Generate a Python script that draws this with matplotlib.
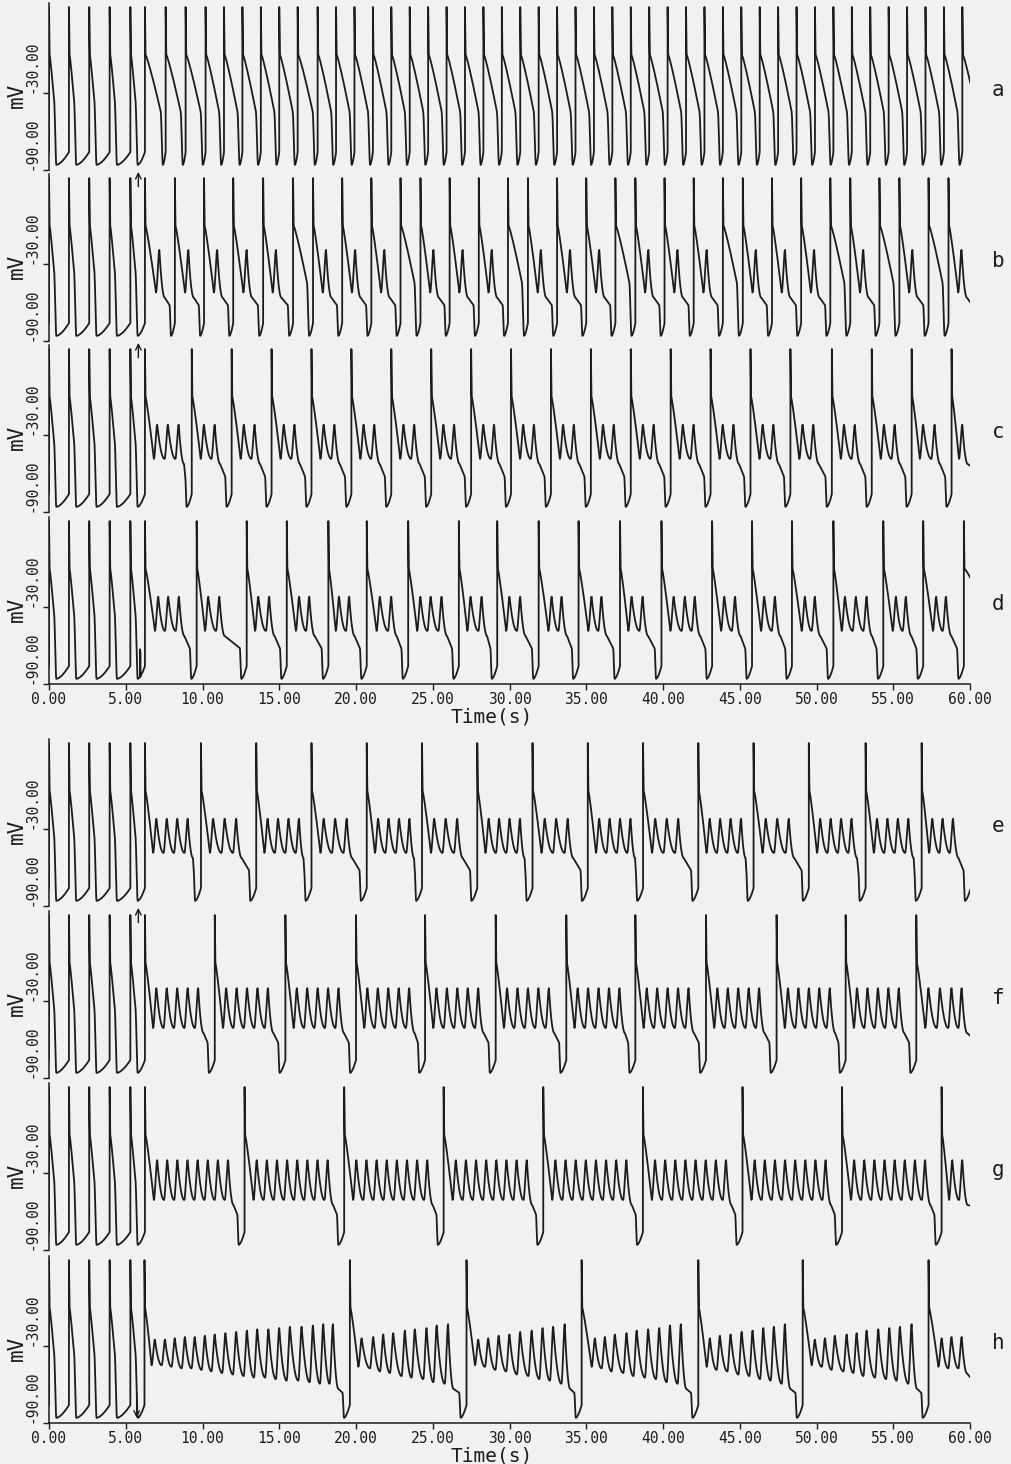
import numpy as np
import matplotlib.pyplot as plt

plt.rcParams['font.family'] = 'DejaVu Sans Mono'

W, H = 1011, 1464
INK = '#1c1c1c'
PAPER = '#f1f1ef'

# action potentials before the stimulus (same in every trace)
pre_aps = [0.0, 1.3, 2.62, 3.95, 5.3]

# upstroke times (s) after the stimulus; last value lies past the end
a_aps = [6.25, 7.6, 8.9, 10.2, 11.4, 12.6, 13.8, 15.0, 16.2, 17.5, 18.7, 19.9,
         21.1, 22.3, 23.5, 24.7, 25.9, 27.1, 28.3, 29.5, 30.7, 31.9, 33.1, 34.3,
         35.5, 36.7, 37.9, 39.1, 40.3, 41.5, 42.7, 43.9, 45.1, 46.3, 47.5, 48.7,
         49.9, 51.1, 52.3, 53.5, 54.7, 55.9, 57.1, 58.3, 59.5, 60.75]
a_bumps = []

b_aps = [6.25, 8.2, 10.1, 12.0, 13.95, 15.9, 17.2, 19.1, 21.0, 22.9, 24.2, 26.1,
         28.0, 29.9, 31.2, 33.1, 35.0, 36.9, 38.2, 40.1, 42.0, 43.9, 45.2, 47.1,
         49.0, 50.9, 52.2, 54.1, 55.4, 57.3, 58.6, 60.5]
b_bumps = [7.19, 9.08, 10.96, 12.88, 14.79, 18.05, 19.95, 21.85, 25.05, 26.95,
           28.85, 32.05, 33.95, 35.85, 39.05, 40.95, 42.85, 46.05, 47.95, 49.85,
           53.05, 56.25, 59.45]

c_aps = [6.25, 9.3, 11.9, 14.5, 17.1, 19.7, 22.3, 24.9, 27.5, 30.1, 32.7, 35.3,
         37.9, 40.5, 43.1, 45.7, 48.3, 51.0, 53.6, 56.2, 58.8, 61.4]
c_bumps = [7.05, 7.75, 8.45, 10.1, 10.8, 12.7, 13.4, 15.3, 16.0, 17.9, 18.6,
           20.5, 21.2, 23.1, 23.8, 25.7, 26.4, 28.3, 29.0, 30.9, 31.6, 33.5,
           34.2, 36.1, 36.8, 38.7, 39.4, 41.3, 42.0, 43.9, 44.6, 46.5, 47.2,
           49.1, 49.8, 51.8, 52.5, 54.4, 55.1, 56.95, 57.7, 59.5]

d_aps = [6.25, 9.62, 12.88, 15.49, 18.2, 20.7, 23.4, 26.7, 29.2, 31.9, 34.5,
         37.2, 39.9, 43.2, 45.8, 48.4, 51.1, 54.35, 56.95, 59.6, 62.0]
d_bumps = [7.12, 7.77, 8.47, 10.38, 11.1, 13.64, 14.35, 16.3, 16.96, 18.9,
           19.56, 21.56, 22.3, 24.2, 24.87, 25.58, 27.47, 28.19, 30.0, 30.7,
           32.75, 33.4, 35.35, 36.0, 37.96, 38.68, 40.7, 41.43, 42.08, 44.0,
           44.7, 46.6, 47.3, 49.25, 49.9, 51.86, 52.57, 53.27, 55.18, 55.83,
           57.8, 58.44]

e_aps = [6.25, 9.9, 13.5, 17.1, 20.7, 24.3, 27.9, 31.5, 35.1, 38.7, 42.3,
         45.9, 49.5, 53.2, 56.85, 60.05]
e_bumps = [7.0, 7.68, 8.36, 9.04, 10.7, 11.45, 12.2,
           14.25, 14.93, 15.61, 16.29, 17.9, 18.65, 19.4,
           21.45, 22.13, 22.81, 23.49, 25.1, 25.85, 26.6,
           28.65, 29.33, 30.01, 30.69, 32.3, 33.05, 33.8,
           35.85, 36.53, 37.21, 37.89, 39.5, 40.25, 41.0,
           43.05, 43.73, 44.41, 45.09, 46.7, 47.45, 48.2,
           50.25, 50.93, 51.61, 52.29, 53.95, 54.63, 55.31, 55.99,
           57.55, 58.22, 58.9]

f_aps = [6.25, 10.8, 15.4, 20.0, 24.5, 29.1, 33.7, 38.2, 42.8, 47.4, 51.9,
         56.5, 61.0]
f_bumps = [7.0, 7.68, 8.36, 9.04, 9.72, 11.55, 12.23, 12.91, 13.59, 14.27,
           16.15, 16.83, 17.51, 18.19, 18.87, 20.75, 21.43, 22.11, 22.79, 23.47,
           25.25, 25.93, 26.61, 27.29, 27.97, 29.85, 30.53, 31.21, 31.89, 32.57,
           34.45, 35.13, 35.81, 36.49, 37.17, 38.95, 39.63, 40.31, 40.99, 41.67,
           43.55, 44.23, 44.91, 45.59, 46.27, 48.15, 48.83, 49.51, 50.19, 50.87,
           52.65, 53.33, 54.01, 54.69, 55.37, 57.3, 58.05, 58.8, 59.46]

g_aps = [6.25, 12.74, 19.23, 25.71, 32.2, 38.69, 45.18, 51.66, 58.15, 64.0]
g_bumps = [7.05, 7.71, 8.37, 9.03, 9.69, 10.35, 11.01, 11.67,
           13.54, 14.2, 14.86, 15.52, 16.18, 16.84, 17.5, 18.16,
           20.03, 20.69, 21.35, 22.01, 22.67, 23.33, 23.99, 24.65,
           26.51, 27.17, 27.83, 28.49, 29.15, 29.81, 30.47, 31.13,
           33.0, 33.66, 34.32, 34.98, 35.64, 36.3, 36.96, 37.62,
           39.49, 40.15, 40.81, 41.47, 42.13, 42.79, 43.45, 44.11,
           45.98, 46.64, 47.3, 47.96, 48.62, 49.28, 49.94, 50.6,
           52.46, 53.12, 53.78, 54.44, 55.1, 55.76, 56.42, 57.08,
           58.85, 59.5]

h_aps = [6.22, 19.6, 27.2, 34.7, 42.3, 49.1, 57.3, 61.0]
h_bumps = [6.9, 7.56, 8.2, 8.86, 9.5, 10.16, 10.8, 11.5, 12.2, 12.9, 13.57,
           14.3, 15.0, 15.7, 16.46, 17.2, 17.87, 18.5,
           20.37, 21.13, 21.78, 22.43, 23.19, 23.84, 24.6, 25.26, 26.0,
           27.97, 28.62, 29.3, 30.0, 30.7, 31.45, 32.16, 32.85, 33.6,
           35.57, 36.22, 36.87, 37.63, 38.29, 39.04, 39.76, 40.46, 41.17,
           43.06, 43.71, 44.41, 45.13, 45.84, 46.54, 47.23, 47.95,
           49.9, 50.56, 51.2, 51.97, 52.62, 53.27, 54.03, 54.75, 55.44, 56.2,
           58.16, 58.8, 59.46]
h_peaks = [-25, -25, -24, -23, -23, -22, -21, -20, -19, -18, -17, -17, -16,
           -15, -15, -14, -13, -13,
           -24, -23, -21, -20, -18, -17, -16, -14, -13,
           -25, -24, -22, -21, -19, -18, -16, -15, -13,
           -24, -23, -21, -20, -18, -17, -16, -14, -13,
           -24, -22, -21, -19, -18, -16, -15, -13,
           -25, -24, -22, -21, -20, -18, -17, -16, -15, -13,
           -24, -23, -23]

panels = [
    # letter, aps, bumps, peaks, baseline px, diastole (s), stim mark
    ('a', a_aps, a_bumps, -19, 170, 0.18, 'up'),
    ('b', b_aps, b_bumps, -19, 341, 0.25, 'up'),
    ('c', c_aps, c_bumps, -22, 512, 0.33, None),
    ('d', d_aps, d_bumps, -22, 684, 0.35, 'artifact'),
    ('e', e_aps, e_bumps, -22, 906, 0.38, 'up'),
    ('f', f_aps, f_bumps, -20, 1078, 0.38, None),
    ('g', g_aps, g_bumps, -20, 1250, 0.38, None),
    ('h', h_aps, h_bumps, h_peaks, 1423, 0.38, 'down'),
]

RISE = 0.22
V_TOP, V_PLAT, V_MIN, V_FOOT = 37.0, 0.0, -86.0, -76.0


def trough(vp):
    return min(-45 - 1.2 * (vp + 25), vp - 14)


def build_trace(aps, bumps, peaks, dia):
    ts, vs = [], []

    def seg(t0, t1, v0, v1, kind='lin', n=14):
        s = np.linspace(0, 1, n)
        if kind == 'cos':
            f = (1 - np.cos(np.pi * s)) / 2
        elif kind == 'out':
            f = 1 - (1 - s) ** 2
        elif kind == 'in':
            f = s ** 1.6
        elif kind == 'in1':
            f = s ** 1.15
        else:
            f = s
        ts.extend(t0 + (t1 - t0) * s)
        vs.extend(v0 + (v1 - v0) * f)

    if np.isscalar(peaks):
        peaks = [peaks] * len(bumps)
    bp = list(zip(bumps, peaks))
    all_aps = pre_aps + aps
    for i in range(len(all_aps) - 1):
        t0, t1 = all_aps[i], all_aps[i + 1]
        ts.extend([t0, t0])
        vs.extend([V_FOOT, V_TOP])
        seg(t0, t0 + 0.04, V_TOP, V_PLAT, n=2)
        inside = [(tb, vp) for tb, vp in bp if t0 < tb < t1]
        if i < len(pre_aps):
            tr = t0 + 0.48
            seg(t0 + 0.04, tr - 0.16, V_PLAT, -34, 'in1')
            seg(tr - 0.16, tr, -34, V_MIN, 'cos')
            seg(tr, t1, V_MIN, V_FOOT, 'in', 30)
            continue
        tr = t1 - dia
        if not inside:
            seg(t0 + 0.04, tr - 0.15, V_PLAT, -44, 'in1', 30)
            seg(tr - 0.15, tr, -44, V_MIN, 'cos')
            seg(tr, t1, V_MIN, V_FOOT, 'in')
            continue
        tb0, vp0 = inside[0]
        seg(t0 + 0.04, tb0 - RISE, V_PLAT, trough(vp0), 'in1', 20)
        for k, (tb, vp) in enumerate(inside):
            seg(tb - RISE, tb, trough(vp), vp, 'cos')
            if k + 1 < len(inside):
                tn, vn = inside[k + 1]
                seg(tb, tn - RISE, vp, trough(vn), 'out', 20)
            else:
                v_low = trough(vp) - 4
                t_mid = min(tb + 0.35, tr - 0.14)
                v_rep = min(-62, v_low - 3)
                seg(tb, t_mid, vp, v_low, 'out', 20)
                seg(t_mid, tr - 0.1, v_low, v_rep)
                seg(tr - 0.1, tr, v_rep, V_MIN, 'cos')
                seg(tr, t1, V_MIN, V_FOOT, 'in')
    return np.array(ts), np.array(vs)


fig = plt.figure(figsize=(W / 100, H / 100), dpi=100, facecolor=PAPER)

x_left, x_right = 49, 970
ylo, yhi = -90, 40
px_per_mv = 1.283

for letter, aps, bumps, peaks, base, dia, mark in panels:
    h_px = (yhi - ylo) * px_per_mv
    ax = fig.add_axes([x_left / W, 1 - base / H, (x_right - x_left) / W, h_px / H])
    ax.set_facecolor('none')
    t, v = build_trace(aps, bumps, peaks, dia)
    if mark == 'artifact':
        j = np.searchsorted(t, 5.93)
        vv = v[j]
        t = np.concatenate([t[:j], [5.93, 5.93, 5.96, 5.96], t[j:]])
        v = np.concatenate([v[:j], [vv, -63, -66, vv], v[j:]])
    ax.plot(t, v, color=INK, lw=1.3)
    ax.set_xlim(0, 60)
    ax.set_ylim(ylo, yhi)
    for side in ['top', 'right']:
        ax.spines[side].set_visible(False)
    ax.spines['left'].set_color(INK)
    ax.spines['left'].set_linewidth(1.1)
    ax.set_yticks([-90, -30])
    ax.set_yticklabels(['-90.00', '-30.00'], rotation=90, va='bottom', ha='right',
                       fontsize=10.5, color=INK)
    ax.tick_params(axis='y', direction='out', length=4.5, width=1.0, pad=2.5,
                   colors=INK)
    bottom = letter in ('d', 'h')
    if bottom:
        ax.spines['bottom'].set_color(INK)
        ax.spines['bottom'].set_linewidth(1.1)
        ax.set_xticks(np.arange(0, 61, 5))
        ax.set_xticklabels([f'{x:.2f}' for x in np.arange(0, 61, 5)],
                           fontsize=10.5, color=INK)
        ax.tick_params(axis='x', direction='out', length=4, width=1.0, pad=1.5,
                       colors=INK)
        fig.text(492 / W, 1 - (base + 33) / H, 'Time(s)', fontsize=14,
                 ha='center', va='center', color=INK)
    else:
        ax.spines['bottom'].set_visible(False)
        ax.set_xticks([])
    fig.text(17 / W, 1 - (base - 75) / H, 'mV', fontsize=15, rotation=90,
             ha='center', va='center', color=INK)
    fig.text(998 / W, 1 - (base - 80) / H, letter, fontsize=15,
             ha='center', va='center', color=INK)
    if mark == 'up':
        ax.annotate('', xy=(5.82, -91.5), xytext=(5.82, -103),
                    arrowprops=dict(arrowstyle='->', lw=1.0, color=INK,
                                    shrinkA=0, shrinkB=0),
                    annotation_clip=False)
    elif mark == 'down':
        ax.annotate('', xy=(5.71, -86), xytext=(5.71, -66),
                    arrowprops=dict(arrowstyle='->', lw=1.0, color=INK,
                                    shrinkA=0, shrinkB=0),
                    annotation_clip=False)

fig.savefig('out.png', dpi=100, facecolor=PAPER)
